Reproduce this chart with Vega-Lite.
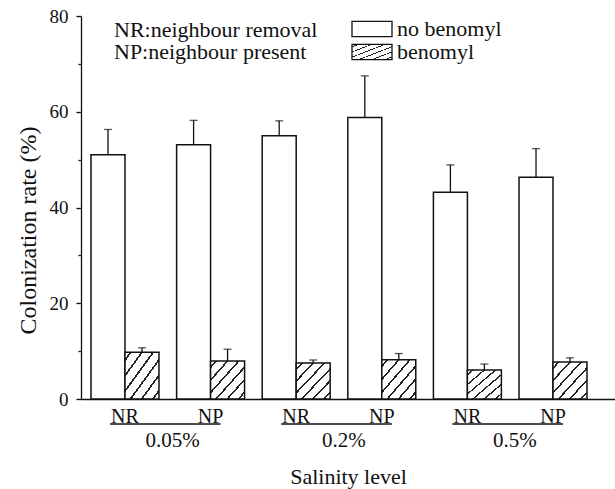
{
  "$schema": "https://vega.github.io/schema/vega-lite/v6.json",
  "width": 534,
  "height": 383,
  "autosize": {"type": "none"},
  "padding": {"left": 81, "top": 16, "right": 0, "bottom": 90},
  "background": "white",
  "config": {
    "font": "Liberation Serif",
    "view": {"stroke": null},
    "axis": {"grid": false, "domainColor": "#111", "domainWidth": 1.3, "tickColor": "#111", "tickWidth": 1.3, "labelColor": "#111", "titleColor": "#111", "titleFontWeight": "normal", "labelFontWeight": "normal", "labelFont": "Liberation Serif", "titleFont": "Liberation Serif"},
    "legend": {"labelFont": "Liberation Serif", "titleFont": "Liberation Serif", "labelLimit": 0},
    "text": {"font": "Liberation Serif"}
  },
  "datasets": {
    "bars": [
      {"salinity": "0.05%", "site": "NR", "cat": "0.05%|NR", "treatment": "no benomyl", "rate": 51.0, "upper": 56.3},
      {"salinity": "0.05%", "site": "NR", "cat": "0.05%|NR", "treatment": "benomyl", "rate": 9.75, "upper": 10.7},
      {"salinity": "0.05%", "site": "NP", "cat": "0.05%|NP", "treatment": "no benomyl", "rate": 53.1, "upper": 58.2},
      {"salinity": "0.05%", "site": "NP", "cat": "0.05%|NP", "treatment": "benomyl", "rate": 7.94, "upper": 10.4},
      {"salinity": "0.2%", "site": "NR", "cat": "0.2%|NR", "treatment": "no benomyl", "rate": 55.0, "upper": 58.1},
      {"salinity": "0.2%", "site": "NR", "cat": "0.2%|NR", "treatment": "benomyl", "rate": 7.5, "upper": 8.15},
      {"salinity": "0.2%", "site": "NP", "cat": "0.2%|NP", "treatment": "no benomyl", "rate": 58.8, "upper": 67.5},
      {"salinity": "0.2%", "site": "NP", "cat": "0.2%|NP", "treatment": "benomyl", "rate": 8.2, "upper": 9.5},
      {"salinity": "0.5%", "site": "NR", "cat": "0.5%|NR", "treatment": "no benomyl", "rate": 43.2, "upper": 48.9},
      {"salinity": "0.5%", "site": "NR", "cat": "0.5%|NR", "treatment": "benomyl", "rate": 6.06, "upper": 7.3},
      {"salinity": "0.5%", "site": "NP", "cat": "0.5%|NP", "treatment": "no benomyl", "rate": 46.3, "upper": 52.3},
      {"salinity": "0.5%", "site": "NP", "cat": "0.5%|NP", "treatment": "benomyl", "rate": 7.73, "upper": 8.6}
    ],
    "groups": [
      {"salinity": "0.05%", "from": "0.05%|NR", "to": "0.05%|NP"},
      {"salinity": "0.2%", "from": "0.2%|NR", "to": "0.2%|NP"},
      {"salinity": "0.5%", "from": "0.5%|NR", "to": "0.5%|NP"}
    ]
  },
  "layer": [
    {
      "data": {"name": "bars"},
      "mark": {"type": "bar", "stroke": "#111", "strokeWidth": 1.5},
      "encoding": {
        "x": {
          "field": "cat", "type": "nominal", "title": "Salinity level",
          "scale": {"domain": ["0.05%|NR", "0.05%|NP", "0.2%|NR", "0.2%|NP", "0.5%|NR", "0.5%|NP"], "paddingInner": 0.206, "paddingOuter": 0.222, "align": 0.263},
          "axis": {"labelExpr": "split(datum.value, '|')[1]", "labelAngle": 0, "ticks": false, "labelFontSize": 20, "labelBaseline": "alphabetic", "labelPadding": 23, "titleFontSize": 22, "titleBaseline": "alphabetic", "titleY": 84}
        },
        "xOffset": {"field": "treatment", "type": "nominal", "scale": {"domain": ["no benomyl", "benomyl"], "paddingInner": 0, "paddingOuter": 0}},
        "y": {
          "field": "rate", "type": "quantitative", "title": "Colonization rate (%)",
          "scale": {"domain": [0, 80], "nice": false},
          "axis": {"values": [0, 10, 20, 30, 40, 50, 60, 70, 80], "labelExpr": "datum.value % 20 === 0 ? datum.label : ''", "tickSize": {"condition": {"test": "datum.value % 20 !== 0", "value": 3}, "value": 5}, "labelFontSize": 19, "labelPadding": 8, "titleFontSize": 24, "titleBaseline": "middle", "titleX": -53, "titleY": 214}
        },
        "fill": {
          "field": "treatment", "type": "nominal",
          "scale": {"domain": ["no benomyl", "benomyl"], "range": ["#ffffff", {"expr": "{gradient: 'linear', x1: 0, y1: 0, x2: 1, y2: 1, stops: [{offset: 0, color: '#fff'}, {offset: 0.07, color: '#fff'}, {offset: 0.07, color: '#222'}, {offset: 0.1, color: '#222'}, {offset: 0.1, color: '#fff'}, {offset: 0.235, color: '#fff'}, {offset: 0.235, color: '#222'}, {offset: 0.265, color: '#222'}, {offset: 0.265, color: '#fff'}, {offset: 0.4, color: '#fff'}, {offset: 0.4, color: '#222'}, {offset: 0.43, color: '#222'}, {offset: 0.43, color: '#fff'}, {offset: 0.565, color: '#fff'}, {offset: 0.565, color: '#222'}, {offset: 0.595, color: '#222'}, {offset: 0.595, color: '#fff'}, {offset: 0.73, color: '#fff'}, {offset: 0.73, color: '#222'}, {offset: 0.76, color: '#222'}, {offset: 0.76, color: '#fff'}, {offset: 0.895, color: '#fff'}, {offset: 0.895, color: '#222'}, {offset: 0.925, color: '#222'}, {offset: 0.925, color: '#fff'}, {offset: 1, color: '#fff'}]}"}]},
          "legend": {
            "orient": "none", "legendX": 270, "legendY": 2.5, "direction": "vertical", "title": null,
            "symbolType": "M-1,-0.385H1V0.385H-1Z", "symbolSize": 1600, "symbolStrokeColor": "#111", "symbolStrokeWidth": 1.3, "symbolOpacity": 1,
            "labelFontSize": 22, "labelOffset": 4, "labelColor": "#111", "rowPadding": 0, "padding": 0, "clipHeight": 21,
            "encode": {"symbols": {"update": {"stroke": {"value": "#111"}, "strokeWidth": {"value": 1.3}, "opacity": {"value": 1}, "fill": [{"test": "datum.value === 'benomyl'", "signal": "{gradient: 'linear', x1: 0, y1: 0, x2: 1.2, y2: 0.462, stops: [{offset: 0, color: '#fff'}, {offset: 0.07, color: '#fff'}, {offset: 0.07, color: '#222'}, {offset: 0.1, color: '#222'}, {offset: 0.1, color: '#fff'}, {offset: 0.25, color: '#fff'}, {offset: 0.25, color: '#222'}, {offset: 0.28, color: '#222'}, {offset: 0.28, color: '#fff'}, {offset: 0.43, color: '#fff'}, {offset: 0.43, color: '#222'}, {offset: 0.46, color: '#222'}, {offset: 0.46, color: '#fff'}, {offset: 0.61, color: '#fff'}, {offset: 0.61, color: '#222'}, {offset: 0.64, color: '#222'}, {offset: 0.64, color: '#fff'}, {offset: 0.79, color: '#fff'}, {offset: 0.79, color: '#222'}, {offset: 0.82, color: '#222'}, {offset: 0.82, color: '#fff'}, {offset: 1, color: '#fff'}]}"}, {"value": "#ffffff"}]}}}
          }
        },
        "opacity": {
          "field": "site", "type": "ordinal",
          "scale": {"domain": ["NR", "NP"], "range": [1, 1]},
          "legend": {"orient": "none", "legendX": 11, "legendY": 3, "direction": "vertical", "title": null, "symbolSize": 0, "symbolStrokeWidth": 0, "labelOffset": 0, "labelFontSize": 22, "labelColor": "#111", "rowPadding": 0, "padding": 0, "clipHeight": 22, "labelExpr": "datum.value == 'NR' ? 'NR:neighbour removal' : 'NP:neighbour present'"}
        }
      }
    },
    {
      "data": {"name": "bars"},
      "mark": {"type": "rule", "color": "#111", "strokeWidth": 1.3},
      "encoding": {
        "x": {"field": "cat", "type": "nominal", "title": "Salinity level"},
        "xOffset": {"field": "treatment", "type": "nominal"},
        "y": {"field": "rate", "type": "quantitative", "title": "Colonization rate (%)"},
        "y2": {"field": "upper"}
      }
    },
    {
      "data": {"name": "bars"},
      "mark": {"type": "tick", "color": "#111", "size": 8, "thickness": 1.3, "orient": "horizontal"},
      "encoding": {
        "x": {"field": "cat", "type": "nominal", "title": "Salinity level"},
        "xOffset": {"field": "treatment", "type": "nominal"},
        "y": {"field": "upper", "type": "quantitative", "title": "Colonization rate (%)"}
      }
    },
    {
      "data": {"name": "groups"},
      "mark": {"type": "rule", "color": "#111", "strokeWidth": 1.5, "xOffset": -15, "x2Offset": 10},
      "encoding": {
        "x": {"field": "from", "type": "nominal", "title": "Salinity level"},
        "x2": {"field": "to"},
        "y": {"datum": -5.22}
      }
    },
    {
      "data": {"name": "groups"},
      "mark": {"type": "text", "color": "#111", "font": "Liberation Serif", "fontSize": 21, "baseline": "middle", "align": "center"},
      "encoding": {
        "x": {"field": "from", "type": "nominal", "bandPosition": 1.2, "title": "Salinity level"},
        "y": {"datum": -8.8},
        "text": {"field": "salinity"}
      }
    }
  ]
}
